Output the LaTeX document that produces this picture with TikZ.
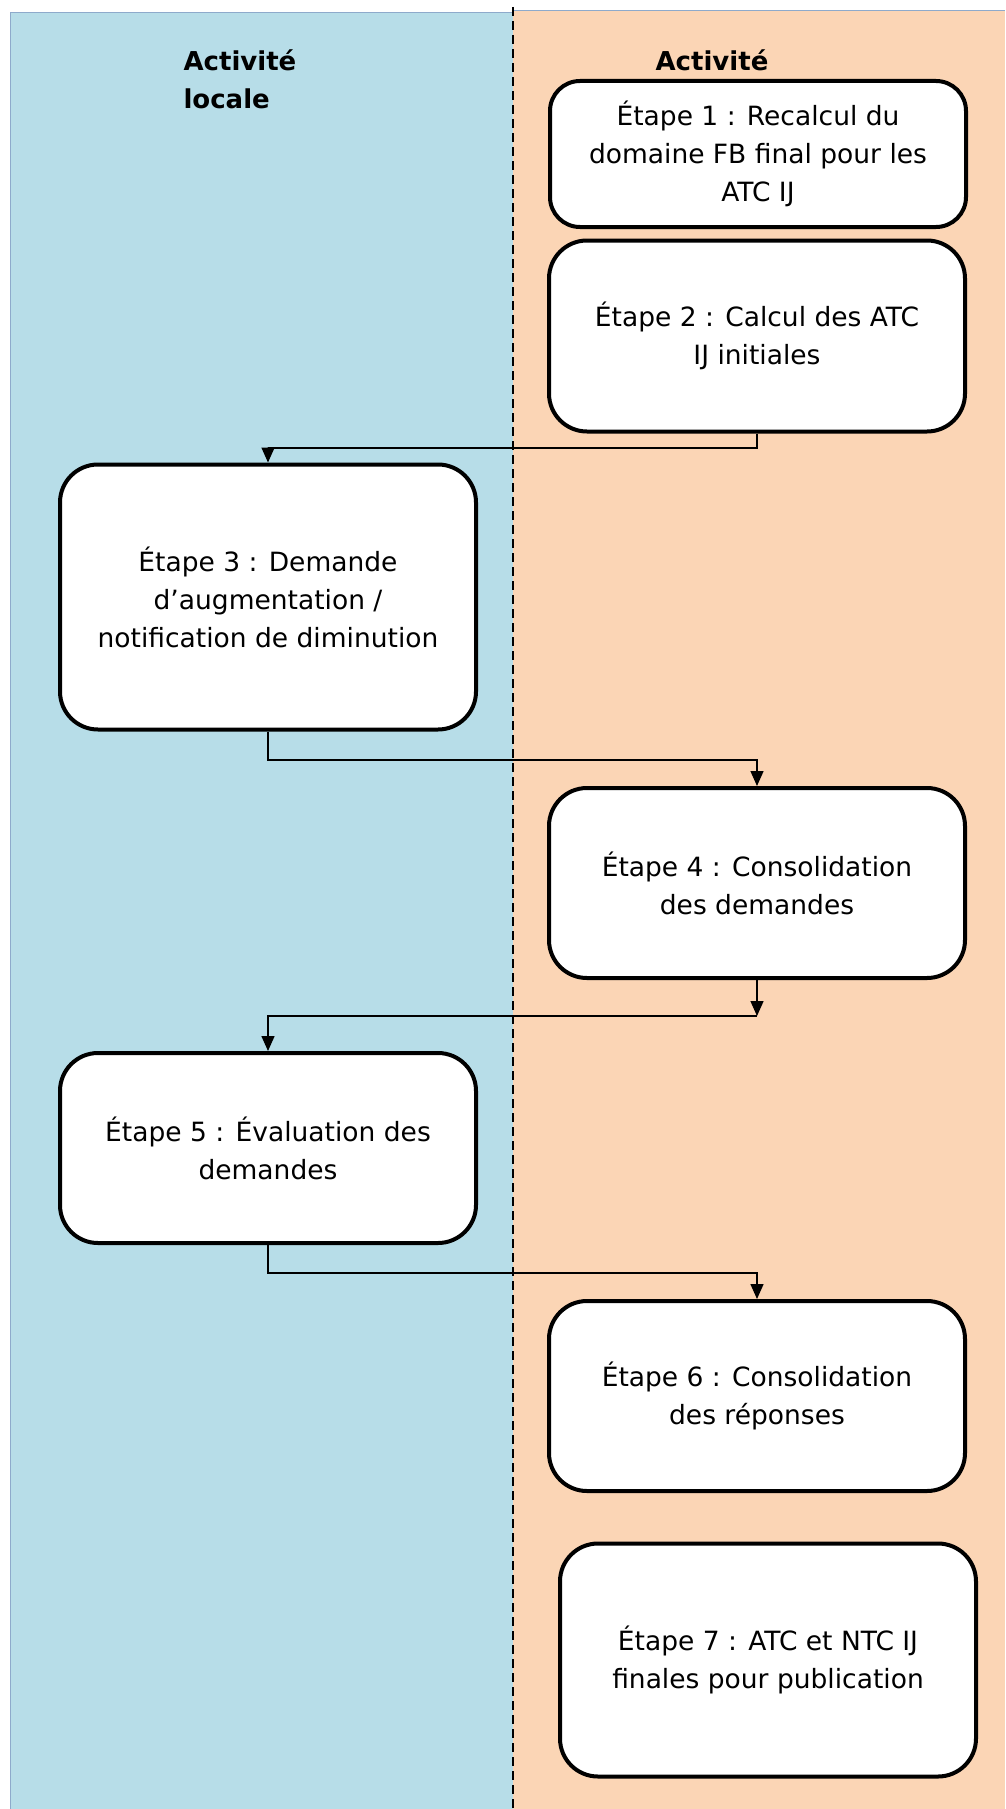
\documentclass[tikz,border=0pt]{standalone}
\usepackage{fontspec}
\setmainfont{DejaVu Sans}
\usetikzlibrary{arrows.meta}
\definecolor{lanebleu}{HTML}{B7DDE8}
\definecolor{laneorange}{HTML}{FBD5B5}
\definecolor{lanebord}{HTML}{8EAACB}
\begin{document}
\begin{tikzpicture}[x=1pt,y=-1pt,
    etape/.style={draw,line width=4pt,rounded corners=38pt,fill=white,align=center,
      minimum width=416pt,font=\fontsize{26.5}{38}\selectfont},
    titre/.style={font=\bfseries\fontsize{26}{38}\selectfont,align=left},
    flux/.style={line width=1.5pt,-{Triangle[length=15pt,width=13pt]}}]
          \useasboundingbox (0,0) rectangle (1005,1809);
          % couloirs
          \fill[lanebleu] (10,13) rectangle (513,1809);
          \fill[laneorange] (513,11) rectangle (1005,1809);
          \draw[lanebord,line width=1pt] (10,1809) -- (10,13) -- (513,13);
          \draw[lanebord,line width=1pt] (513,11) -- (1005,11);
          \draw[dashed,line width=1.8pt,dash pattern=on 9pt off 5pt] (513,7) -- (513,1809);
          \node[titre,anchor=north west] (tlocal) at (180,46){Activité\\locale};
          \node[titre,anchor=north] (tcentre) at (712,46){Activité};
          % etapes
          \node[etape,minimum height=146pt,rounded corners=30pt] (e1) at (758,154){Étape 1 : Recalcul du\\domaine FB final pour les\\ATC IJ};
          \node[etape,minimum height=191pt] (e2) at (757,336){Étape 2 : Calcul des ATC\\IJ initiales};
          \node[etape,minimum height=265pt] (e3) at (268,597){Étape 3 : Demande\\d’augmentation /\\notification de diminution};
          \node[etape,minimum height=190pt] (e4) at (757,883){Étape 4 : Consolidation\\des demandes};
          \node[etape,minimum height=190pt] (e5) at (268,1148){Étape 5 : Évaluation des\\demandes};
          \node[etape,minimum height=190pt] (e6) at (757,1396){Étape 6 : Consolidation\\des réponses};
          \node[etape,minimum height=233pt] (e7) at (768,1660){Étape 7 : ATC et NTC IJ\\finales pour publication};
          % connecteurs
          \coordinate (j23) at (757,448);
          \coordinate (j34) at (268,760);
          \coordinate (j45) at (757,1016);
          \coordinate (j56) at (268,1273);
          \draw[flux] (e2.south) -- (j23) -| (e3.north);
          \draw[flux] (e3.south) -- (j34) -| (e4.north);
          \draw[flux] (e4.south) -- (j45);
          \draw[flux] (j45) -| (e5.north);
          \draw[flux] (e5.south) -- (j56) -| (e6.north);
        \end{tikzpicture}
\end{document}
